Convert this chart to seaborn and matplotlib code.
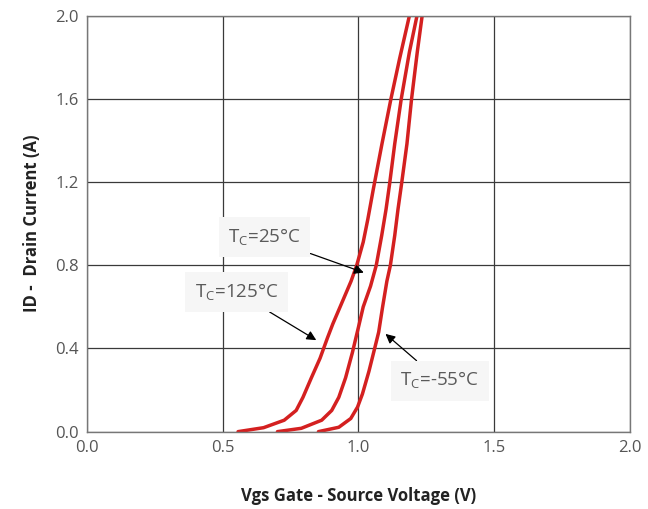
import matplotlib
matplotlib.use('Agg')
import matplotlib.pyplot as plt
import seaborn as sns
import pandas as pd
import numpy as np

# Transfer characteristics
vgs_125 = [0.557, 0.651, 0.727, 0.771, 0.796, 0.827, 0.859, 0.886, 0.906, 0.942,
           0.973, 0.994, 1.018, 1.035, 1.055, 1.087, 1.120, 1.152, 1.188]
id_125 = [0.0, 0.019, 0.055, 0.102, 0.165, 0.259, 0.353, 0.45, 0.518, 0.628,
          0.723, 0.80, 0.912, 1.022, 1.165, 1.384, 1.6, 1.794, 2.0]

vgs_25 = [0.702, 0.790, 0.865, 0.902, 0.928, 0.953, 0.978, 1.000, 1.018, 1.045,
          1.066, 1.086, 1.102, 1.115, 1.134, 1.158, 1.188, 1.216]
id_25 = [0.0, 0.016, 0.055, 0.102, 0.165, 0.259, 0.38, 0.50, 0.60, 0.70,
         0.80, 0.943, 1.069, 1.19, 1.384, 1.6, 1.825, 2.0]

vgs_m55 = [0.853, 0.928, 0.972, 0.997, 1.015, 1.039, 1.057, 1.075, 1.089, 1.105,
           1.118, 1.134, 1.146, 1.159, 1.179, 1.196, 1.217, 1.235]
id_m55 = [0.0, 0.021, 0.063, 0.118, 0.181, 0.29, 0.384, 0.479, 0.597, 0.723,
          0.80, 0.943, 1.069, 1.19, 1.384, 1.6, 1.825, 2.0]

x_ticks = [0.0, 0.5, 1.0, 1.5, 2.0]
y_ticks = [0.0, 0.4, 0.8, 1.2, 1.6, 2.0]

df = pd.concat([
    pd.DataFrame({"Vgs": vgs_125, "ID": id_125, "Tc": "125"}),
    pd.DataFrame({"Vgs": vgs_25, "ID": id_25, "Tc": "25"}),
    pd.DataFrame({"Vgs": vgs_m55, "ID": id_m55, "Tc": "-55"}),
], ignore_index=True)

sns.set_style("white")
plt.rcParams['font.family'] = ['Open Sans', 'DejaVu Sans']

fig = plt.figure(figsize=(6.48, 5.09), dpi=100)
ax = fig.add_axes([0.134, 0.152, 0.838, 0.817])

red = "#d42020"
sns.lineplot(data=df, x="Vgs", y="ID", units="Tc", estimator=None, sort=False,
             color=red, linewidth=2.5, ax=ax, legend=False)
for ln in ax.lines:
    ln.set_solid_joinstyle("round")
    ln.set_solid_capstyle("round")

ax.set_xlim(0, 2.0)
ax.set_ylim(0, 2.0)
ax.set_xticks(x_ticks)
ax.set_yticks(y_ticks)
ax.set_xticklabels([f"{v:.1f}" for v in x_ticks])
ax.set_yticklabels([f"{v:.1f}" for v in y_ticks])
ax.tick_params(axis='both', length=0, labelsize=12, labelcolor="#555555", pad=6)
ax.grid(True, color="#3a3a3a", linewidth=0.9)
ax.set_axisbelow(True)
for sp in ax.spines.values():
    sp.set_color("#777777")
    sp.set_linewidth(1.0)

ax.set_xlabel("Vgs Gate - Source Voltage (V)", fontsize=12, fontweight="bold",
              color="#222222", labelpad=22)
ax.set_ylabel("ID -  Drain Current (A)", fontsize=12, fontweight="bold",
              color="#222222", labelpad=10)

box = dict(boxstyle="square,pad=0.5", fc="#f6f6f6", ec="none")
arrow = dict(arrowstyle="-|>", color="black", lw=0.9, mutation_scale=14, shrinkA=0, shrinkB=0)
txt_kw = dict(fontsize=13.5, color="#5a5a5a", ha="center", va="center", bbox=box, arrowprops=arrow)

ax.annotate(r"T$_\mathregular{C}$=25°C", xy=(1.02, 0.765), xytext=(0.655, 0.935), **txt_kw)
ax.annotate(r"T$_\mathregular{C}$=125°C", xy=(0.845, 0.44), xytext=(0.551, 0.672), **txt_kw)
ax.annotate(r"T$_\mathregular{C}$=-55°C", xy=(1.10, 0.47), xytext=(1.30, 0.245), **txt_kw)

plt.savefig("out.png", dpi=100)
plt.close()
